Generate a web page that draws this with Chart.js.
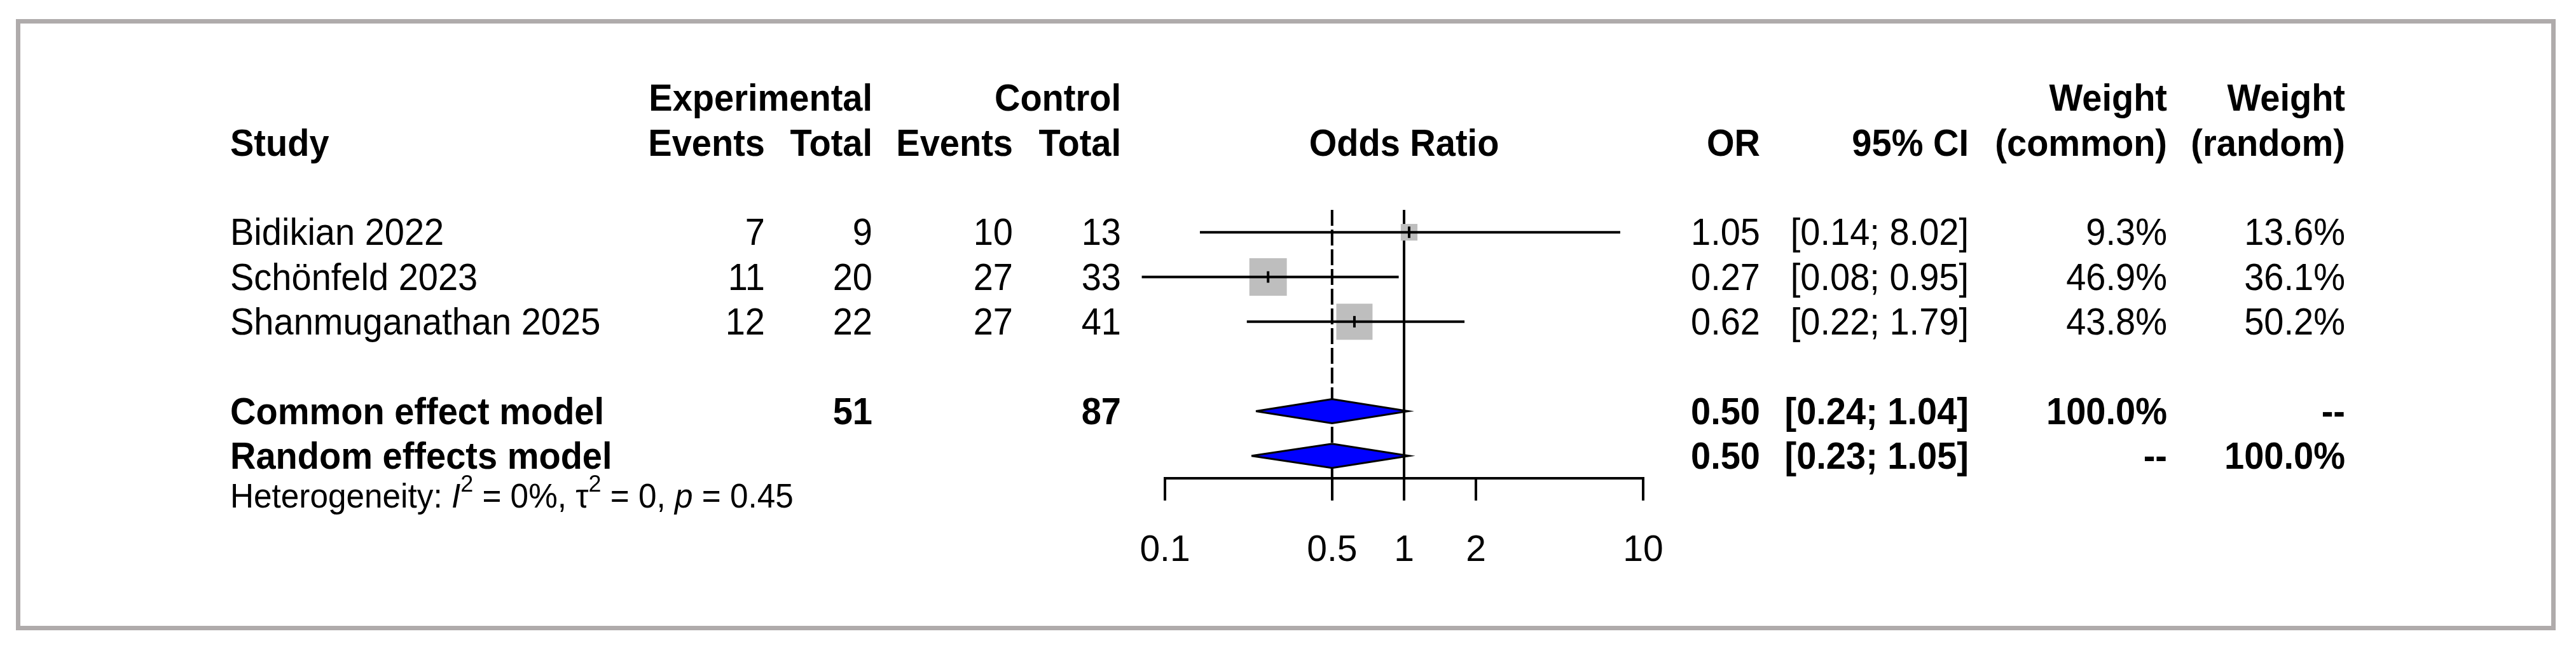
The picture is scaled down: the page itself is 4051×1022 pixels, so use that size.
<!DOCTYPE html>
<html>
<head>
<meta charset="utf-8">
<script src="https://cdn.jsdelivr.net/npm/chart.js@4.4.1/dist/chart.umd.min.js"></script>
<style>
  html, body { margin: 0; padding: 0; background: #fff; }
  #wrap { position: relative; width: 4051px; height: 1022px; }
  #frame { position: absolute; left: 25px; top: 30px; width: 3994px; height: 961px;
           border: 7px solid #afabab; box-sizing: border-box; }
  #chart { position: absolute; left: 0; top: 0; }
</style>
</head>
<body>
<div id="wrap">
  <div id="frame"></div>
  <canvas id="chart" width="4051" height="1022"></canvas>
</div>
<script>
// study level data
const studies = ["Bidikian 2022", "Schönfeld 2023", "Shanmuganathan 2025"];
const expEvents = [7, 11, 12];
const expTotal = [9, 20, 22];
const ctrlEvents = [10, 27, 27];
const ctrlTotal = [13, 33, 41];
const oddsRatio = [1.05, 0.27, 0.62];
const ciLower = [0.14, 0.08, 0.22];
const ciUpper = [8.02, 0.95, 1.79];
const weightCommon = ["9.3%", "46.9%", "43.8%"];
const weightRandom = ["13.6%", "36.1%", "50.2%"];

// pooled results
const models = ["Common effect model", "Random effects model"];
const modelOR = [0.50, 0.50];
const modelLower = [0.24, 0.23];
const modelUpper = [1.04, 1.05];
const modelWCommon = ["100.0%", "--"];
const modelWRandom = ["--", "100.0%"];
const totalExp = 51;
const totalCtrl = 87;

const axisTicks = [0.1, 0.5, 1, 2, 10];
const hetI2 = "0%", hetTau2 = "0", hetP = "0.45";

const FONT = '"Liberation Sans", Arial, sans-serif';
const modelRow = i => studies.length + 1 + i;

// column anchors (px)
const col = { study: 362, expEv: 1203, expTot: 1372, ctrlEv: 1593, ctrlTot: 1763,
              or: 2768, ci: 3096, wCom: 3408, wRan: 3688 };

const datasets = [];

// reference lines: no effect (solid) and common effect estimate (dashed)
datasets.push({
  data: [{x: 1, y: -0.5}, {x: 1, y: 5.5}],
  borderColor: "#000", borderWidth: 4, pointRadius: 0, order: 6
});
datasets.push({
  data: [{x: modelOR[0], y: -0.5}, {x: modelOR[0], y: 5.5}],
  borderColor: "#000", borderWidth: 4, borderDash: [25, 6], pointRadius: 0, order: 6
});

// study squares, area proportional to common weight
datasets.push({
  data: studies.map((s, i) => ({x: oddsRatio[i], y: i})),
  showLine: false,
  pointStyle: "rect",
  pointRadius: weightCommon.map(w => 8.6 * Math.sqrt(parseFloat(w)) / Math.SQRT2),
  pointBackgroundColor: "#bebebe", pointBorderWidth: 0,
  order: 5
});

// confidence interval lines
studies.forEach((s, i) => {
  datasets.push({
    data: [{x: ciLower[i], y: i}, {x: ciUpper[i], y: i}],
    borderColor: "#000", borderWidth: 4, pointRadius: 0, order: 4
  });
});

// tick at point estimate
datasets.push({
  data: studies.map((s, i) => ({x: oddsRatio[i], y: i})),
  showLine: false,
  pointStyle: "line", rotation: 90, pointRadius: 9,
  pointBorderColor: "#000", pointBorderWidth: 4,
  order: 3
});

// diamonds
models.forEach((m, i) => {
  const r = modelRow(i), h = 0.27;
  datasets.push({
    data: [{x: modelLower[i], y: r}, {x: modelOR[i], y: r - h},
           {x: modelUpper[i], y: r}, {x: modelOR[i], y: r + h},
           {x: modelLower[i], y: r}],
    borderColor: "#000", borderWidth: 3, backgroundColor: "#0000ff",
    fill: "shape", pointRadius: 0, tension: 0, order: 1
  });
});

// text is drawn a touch taller than wide, like the source render
function txt(ctx, s, x, y, align, bold, size) {
  ctx.save();
  ctx.font = (bold ? "bold " : "") + (size || 56) + "px " + FONT;
  ctx.textAlign = align;
  ctx.translate(x, y);
  ctx.scale(1, 1.05);
  ctx.fillText(s, 0, 0);
  ctx.restore();
}

const tablePlugin = {
  id: "table",
  afterDraw(chart) {
    const ctx = chart.ctx;
    const ys = chart.scales.y, xs = chart.scales.x;
    const Y = r => ys.getPixelForValue(r) + 4;
    ctx.save();
    ctx.fillStyle = "#000";
    ctx.textBaseline = "middle";

    // headers
    txt(ctx, "Experimental", col.expTot, Y(-3), "right", true);
    txt(ctx, "Control", col.ctrlTot, Y(-3), "right", true);
    txt(ctx, "Weight", col.wCom, Y(-3), "right", true);
    txt(ctx, "Weight", col.wRan, Y(-3), "right", true);
    txt(ctx, "Study", col.study, Y(-2), "left", true);
    txt(ctx, "Events", col.expEv, Y(-2), "right", true);
    txt(ctx, "Total", col.expTot, Y(-2), "right", true);
    txt(ctx, "Events", col.ctrlEv, Y(-2), "right", true);
    txt(ctx, "Total", col.ctrlTot, Y(-2), "right", true);
    txt(ctx, "Odds Ratio", (xs.left + xs.right) / 2, Y(-2), "center", true);
    txt(ctx, "OR", col.or, Y(-2), "right", true);
    txt(ctx, "95% CI", col.ci, Y(-2), "right", true);
    txt(ctx, "(common)", col.wCom, Y(-2), "right", true);
    txt(ctx, "(random)", col.wRan, Y(-2), "right", true);

    // study rows
    studies.forEach((s, i) => {
      const y = Y(i);
      txt(ctx, s, col.study, y, "left");
      txt(ctx, String(expEvents[i]), col.expEv, y, "right");
      txt(ctx, String(expTotal[i]), col.expTot, y, "right");
      txt(ctx, String(ctrlEvents[i]), col.ctrlEv, y, "right");
      txt(ctx, String(ctrlTotal[i]), col.ctrlTot, y, "right");
      txt(ctx, oddsRatio[i].toFixed(2), col.or, y, "right");
      txt(ctx, "[" + ciLower[i].toFixed(2) + "; " + ciUpper[i].toFixed(2) + "]", col.ci, y, "right");
      txt(ctx, weightCommon[i], col.wCom, y, "right");
      txt(ctx, weightRandom[i], col.wRan, y, "right");
    });

    // pooled rows
    models.forEach((m, i) => {
      const y = Y(modelRow(i));
      txt(ctx, m, col.study, y, "left", true);
      if (i === 0) {
        txt(ctx, String(totalExp), col.expTot, y, "right", true);
        txt(ctx, String(totalCtrl), col.ctrlTot, y, "right", true);
      }
      txt(ctx, modelOR[i].toFixed(2), col.or, y, "right", true);
      txt(ctx, "[" + modelLower[i].toFixed(2) + "; " + modelUpper[i].toFixed(2) + "]", col.ci, y, "right", true);
      txt(ctx, modelWCommon[i], col.wCom, y, "right", true);
      txt(ctx, modelWRandom[i], col.wRan, y, "right", true);
    });

    // heterogeneity line
    const fs = 51.3, sup = 36;
    const hy = ys.getPixelForValue(modelRow(1)) + 66;
    const parts = [
      ["Heterogeneity: ", "", fs, 0], ["I", "italic ", fs, 0], ["2", "", sup, -20],
      [" = " + hetI2 + ", ", "", fs, 0], ["\u03c4", "", fs, 0], ["2", "", sup, -20],
      [" = " + hetTau2 + ", ", "", fs, 0], ["p", "italic ", fs, 0], [" = " + hetP, "", fs, 0]
    ];
    let x = col.study;
    ctx.textAlign = "left";
    parts.forEach(p => {
      ctx.font = p[1] + p[2] + "px " + FONT;
      ctx.save();
      ctx.translate(x, hy + p[3]);
      ctx.scale(1, 1.05);
      ctx.fillText(p[0], 0, 0);
      ctx.restore();
      x += ctx.measureText(p[0]).width;
    });
    ctx.restore();
  }
};

new Chart(document.getElementById("chart"), {
  type: "line",
  data: { datasets },
  options: {
    responsive: false,
    animation: false,
    devicePixelRatio: 1,
    events: [],
    clip: false,
    layout: { padding: { left: 1832, right: 4051 - 2584, top: 112, bottom: 70 } },
    plugins: { legend: { display: false }, tooltip: { enabled: false } },
    scales: {
      x: {
        type: "logarithmic",
        min: 0.1, max: 10,
        afterBuildTicks: s => { s.ticks = axisTicks.map(v => ({ value: v })); },
        afterFit: s => { s.height = 200; },
        ticks: {
          callback: v => String(v),
          autoSkip: false, maxRotation: 0,
          color: "#000", padding: 45,
          font: { family: FONT, size: 57 }
        },
        grid: { display: true, drawOnChartArea: false, drawTicks: true,
                tickLength: 35, color: "#000", lineWidth: 4 },
        border: { display: true, color: "#000", width: 4 }
      },
      y: {
        type: "linear", reverse: true,
        min: -3.6, max: 5.5,
        display: false
      }
    }
  },
  plugins: [tablePlugin]
});
</script>
</body>
</html>
